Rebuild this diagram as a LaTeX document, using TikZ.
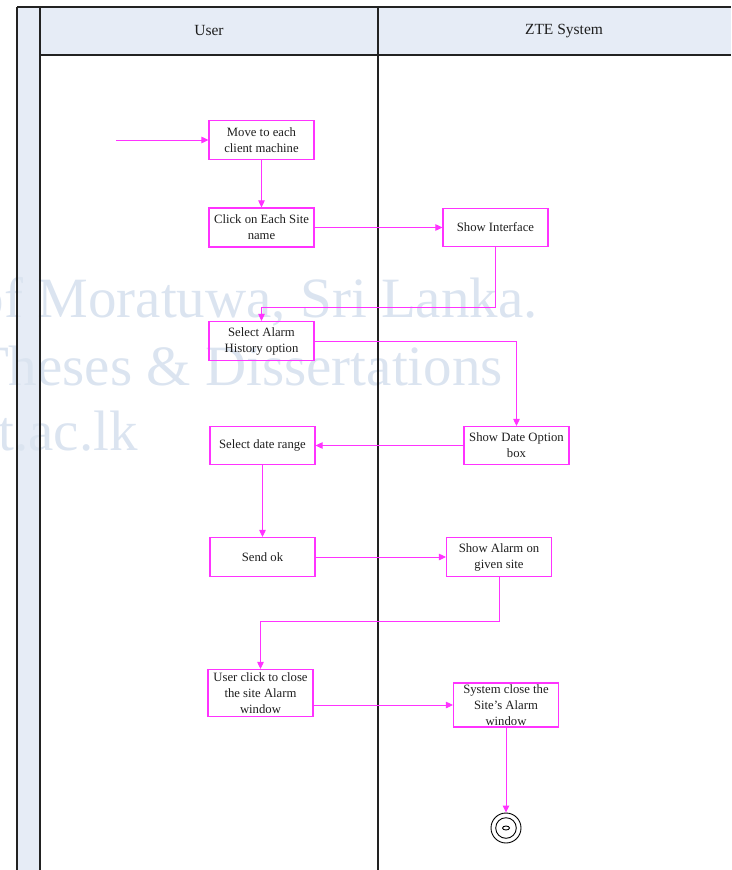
\documentclass[tikz,border=0pt]{standalone}
\usepackage{fontspec}
\setmainfont{Liberation Serif}
\usetikzlibrary{arrows.meta}

\definecolor{mag}{RGB}{255,51,255}
\definecolor{lanefill}{RGB}{230,236,246}
\definecolor{laneline}{RGB}{34,34,34}
\definecolor{wmark}{RGB}{219,228,240}
\definecolor{ink}{RGB}{30,30,30}

\tikzset{
  act/.style={draw=mag, line width=1.1pt, minimum width=105pt, inner sep=0pt,
    align=center, text=ink, font=\fontsize{12.7}{16}\selectfont},
  flow/.style={draw=mag, line width=0.9pt, -{Triangle[length=7pt,width=6.5pt]}},
  lane/.style={draw=laneline, line width=1.4pt},
  lanehead/.style={font=\fontsize{15.5}{18}\selectfont, text=ink},
  wm/.style={text=wmark, font=\fontsize{57}{60}\selectfont, inner sep=0pt, anchor=base east},
}

\begin{document}
\begin{tikzpicture}[x=1pt, y=-1pt]
\useasboundingbox (0,0) rectangle (731,870);

% lane fills
\fill[lanefill] (17,7) rectangle (40,870);
\fill[lanefill] (40,7) rectangle (731,55);

% watermark text
\node[wm] (wm1) at (538,317) {University of Moratuwa, Sri Lanka.};
\node[wm] (wm2) at (503,385) {Electronic Theses \& Dissertations};
\node[wm] (wm3) at (138,450) {www.lib.mrt.ac.lk};

% swimlane frame
\draw[lane] (17,7) -- (731,7);
\draw[lane] (17,7) -- (17,870);
\draw[lane] (40,7) -- (40,870);
\draw[lane] (40,55) -- (731,55);
\draw[lane] (378,7) -- (378,870);

\node[lanehead] (hUser) at (209,31) {User};
\node[lanehead] (hZTE) at (564,31) {ZTE System};

% activities
\node[act, minimum height=39pt] (move) at (261.5,140) {Move to each\\client machine};
\node[act, minimum height=39pt] (click) at (261.5,227.5) {Click on Each Site\\name};
\node[act, minimum height=38pt] (iface) at (495.5,227.5) {Show Interface};
\node[act, minimum height=39pt] (alarm) at (261.5,341) {Select Alarm\\History option};
\node[act, minimum height=38pt] (dateopt) at (516.5,445.5) {Show Date Option\\box};
\node[act, minimum height=38pt] (daterange) at (262.5,445.5) {Select date range};
\node[act, minimum height=39pt] (sendok) at (262.5,557) {Send ok};
\node[act, minimum height=39pt] (showalarm) at (499,557) {Show Alarm on\\given site};
\node[act, minimum height=47pt] (userclose) at (260.5,693) {User click to close\\the site Alarm\\window};
\node[act, minimum height=44pt] (sysclose) at (506,705) {System close the\\Site’s Alarm\\window};

% final state
\node[draw=black, circle, line width=0.9pt, minimum size=30pt, inner sep=0pt] (final) at (506,828) {};
\draw[black, line width=0.9pt] (final.center) circle (10.3);
\draw[black, line width=0.9pt] (final.center) ellipse (3.5 and 2);

% routing points
\coordinate (start) at (116,140);
\coordinate (j1) at (0,307);
\coordinate (j2) at (0,621);

% transitions
\draw[flow] (start) -- (move.west);
\draw[flow] (move) -- (click);
\draw[flow] (click.east) -- (iface.west);
\draw[flow] (iface.south) -- (iface.south |- j1) -| (alarm.north);
\draw[flow] (alarm.east) -| (dateopt.north);
\draw[flow] (dateopt.west) -- (daterange.east);
\draw[flow] (daterange) -- (sendok);
\draw[flow] (sendok.east) -- (showalarm.west);
\draw[flow] (showalarm.south) -- (showalarm.south |- j2) -| (userclose.north);
\draw[flow] (sysclose.west -| userclose.east) -- (sysclose.west);
\draw[flow] (sysclose.south) -- (final.north);
\end{tikzpicture}
\end{document}
